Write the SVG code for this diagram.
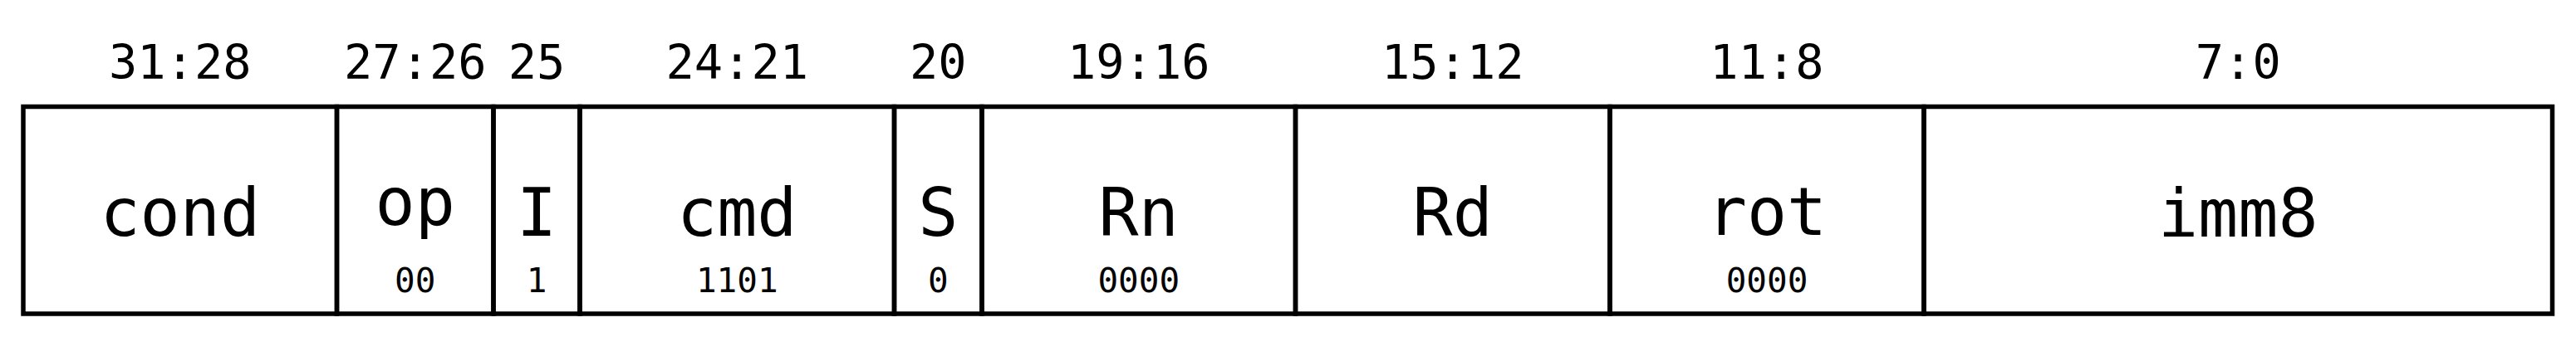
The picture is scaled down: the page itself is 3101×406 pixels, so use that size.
<svg xmlns="http://www.w3.org/2000/svg" width="3101" height="406" viewBox="0 0 3101 406">
<style>
.f{fill:none;stroke:#000;stroke-width:5.5}
.t{font-family:"DejaVu Sans Mono","Liberation Mono",monospace;fill:#000;text-anchor:middle}
.bits{font-size:57px}
.name{font-size:80px}
.val{font-size:41px}
</style>
<rect width="3101" height="406" fill="#fff"/>
<g id="cond">
<rect class="f" x="28" y="128.5" width="377.5" height="249.5"/>
<text class="t bits" x="216.75" y="95">31:28</text>
<text class="t name" x="216.75" y="284">cond</text>
</g>
<g id="op">
<rect class="f" x="405.5" y="128.5" width="188.5" height="249.5"/>
<text class="t bits" x="499.75" y="95">27:26</text>
<text class="t name" x="499.75" y="271">op</text>
<text class="t val" x="499.75" y="352">00</text>
</g>
<g id="I">
<rect class="f" x="594" y="128.5" width="104" height="249.5"/>
<text class="t bits" x="646" y="95">25</text>
<text class="t name" x="646" y="284">I</text>
<text class="t val" x="646" y="352">1</text>
</g>
<g id="cmd">
<rect class="f" x="698" y="128.5" width="378.5" height="249.5"/>
<text class="t bits" x="887.25" y="95">24:21</text>
<text class="t name" x="887.25" y="284">cmd</text>
<text class="t val" x="887.25" y="352">1101</text>
</g>
<g id="S">
<rect class="f" x="1076.5" y="128.5" width="105.5" height="249.5"/>
<text class="t bits" x="1129.25" y="95">20</text>
<text class="t name" x="1129.25" y="284">S</text>
<text class="t val" x="1129.25" y="352">0</text>
</g>
<g id="Rn">
<rect class="f" x="1182" y="128.5" width="377.5" height="249.5"/>
<text class="t bits" x="1370.75" y="95">19:16</text>
<text class="t name" x="1370.75" y="284">Rn</text>
<text class="t val" x="1370.75" y="352">0000</text>
</g>
<g id="Rd">
<rect class="f" x="1559.5" y="128.5" width="378.5" height="249.5"/>
<text class="t bits" x="1748.75" y="95">15:12</text>
<text class="t name" x="1748.75" y="284">Rd</text>
</g>
<g id="rot">
<rect class="f" x="1938" y="128.5" width="378" height="249.5"/>
<text class="t bits" x="2127" y="95">11:8</text>
<text class="t name" x="2127" y="283">rot</text>
<text class="t val" x="2127" y="352">0000</text>
</g>
<g id="imm8">
<rect class="f" x="2316" y="128.5" width="756.5" height="249.5"/>
<text class="t bits" x="2694.25" y="95">7:0</text>
<text class="t name" x="2694.25" y="285">imm8</text>
</g>
<g id="connectors"/>
</svg>
